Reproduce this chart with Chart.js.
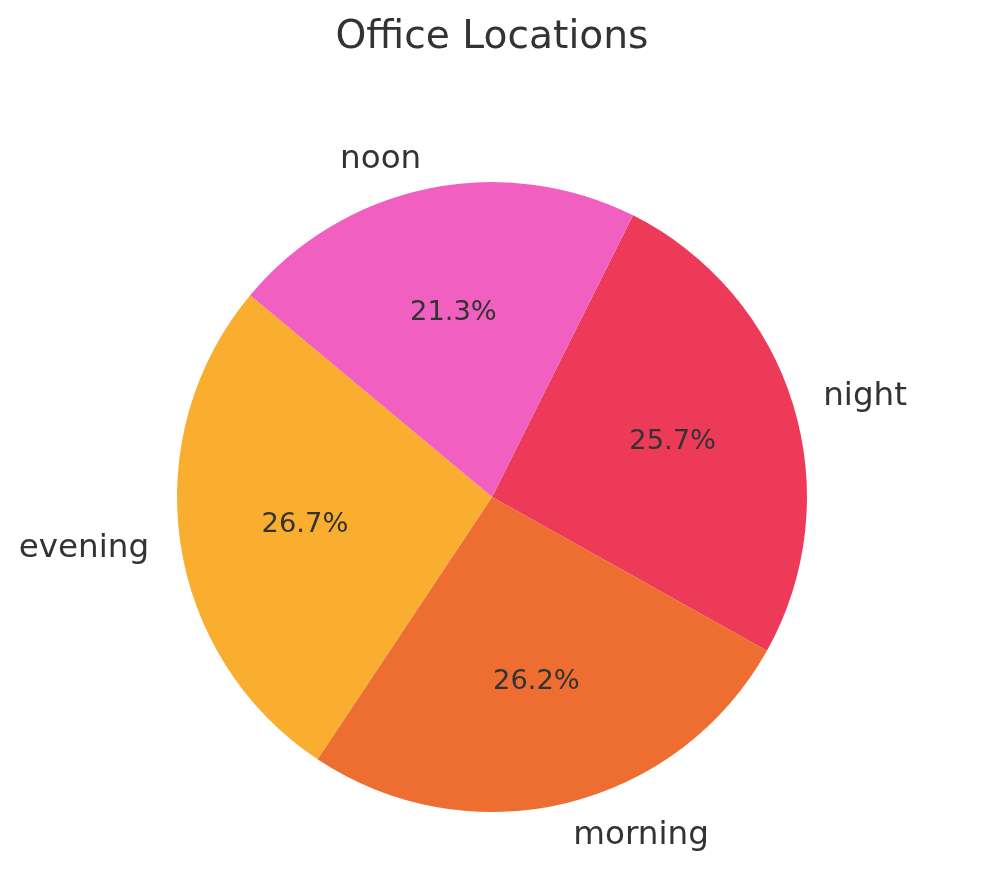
<html>
<head>
<title>Office Locations</title>
<style type="text/css">
body { margin: 0; background: #fff; }
#wrap { width: 981px; height: 878px; }
</style>
<script src="https://cdn.jsdelivr.net/npm/chart.js"></script>
<script>
// clockwise from the top-right edge
const labels = ['night', 'morning', 'evening', 'noon'];
const shares = [25.7, 26.2, 26.7, 21.3];
const colours = ['#ED3A59', '#EE6D31', '#F9AE30', '#F15FC1'];

const FONT = 'DejaVu Sans';
const TEXT = '#333333';

// draws outside labels and percentages the way matplotlib places them
const pieText = {
	id: 'pieText',
	afterDatasetsDraw(chart) {
		const ctx = chart.ctx;
		const meta = chart.getDatasetMeta(0);
		const total = shares.reduce((a, b) => a + b, 0);
		ctx.save();
		ctx.fillStyle = TEXT;
		ctx.textBaseline = 'alphabetic';
		meta.data.forEach((arc, i) => {
			const p = arc.getProps(['x', 'y', 'startAngle', 'endAngle', 'outerRadius'], true);
			const mid = (p.startAngle + p.endAngle) / 2;
			const c = Math.cos(mid), s = Math.sin(mid);
			// label at 1.1 r
			ctx.font = '32.6px "' + FONT + '"';
			ctx.textAlign = c > 0 ? 'left' : 'right';
			ctx.fillText(labels[i], p.x + 1.1 * p.outerRadius * c, p.y + 1.1 * p.outerRadius * s + 10.3);
			// pct at 0.6 r
			ctx.font = '27.3px "' + FONT + '"';
			ctx.textAlign = 'center';
			const pct = (shares[i] / total * 100).toFixed(1) + '%';
			ctx.fillText(pct, p.x + 0.6 * p.outerRadius * c, p.y + 0.6 * p.outerRadius * s + 8);
		});
		ctx.restore();
	}
};

function load()
{
	new Chart(document.getElementById('pie'), {
		type: 'pie',
		data: {
			labels: labels,
			datasets: [{
				data: shares,
				backgroundColor: colours,
				borderWidth: 0,
				hoverOffset: 0
			}]
		},
		options: {
			responsive: false,
			animation: false,
			rotation: 26.6,
			layout: { padding: { left: 177, right: 174, top: 0, bottom: 66 } },
			plugins: {
				legend: { display: false },
				tooltip: { enabled: false },
				title: {
					display: true,
					text: 'Office Locations',
					color: TEXT,
					font: { family: FONT, size: 39.2, weight: 'normal', lineHeight: 1 },
					padding: { top: 17.9, bottom: 124.9 }
				}
			}
		},
		plugins: [pieText]
	});
}
</script>
</head>
<body onload='load();'>
<div id='wrap'>
<canvas id="pie" width="981" height="878"></canvas>
</div>
</body>
</html>
